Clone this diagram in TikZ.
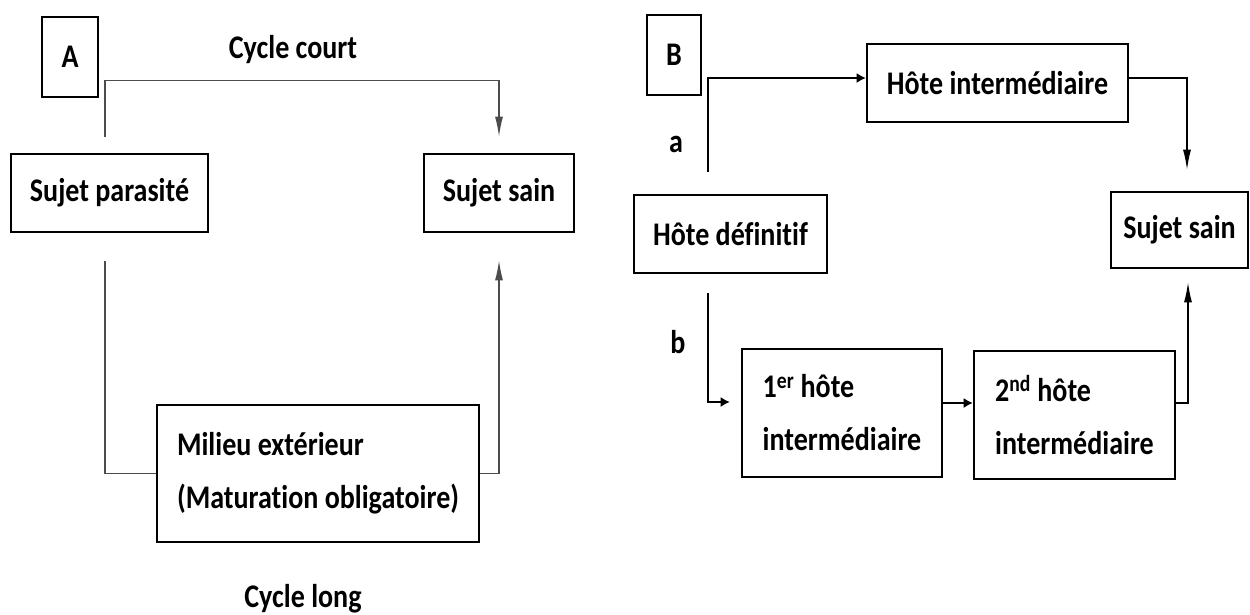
\documentclass[tikz,border=0pt]{standalone}
\usepackage{fontspec}
\setmainfont{Carlito}[FakeStretch=0.85,Ligatures=NoCommon]
\usepackage{tikz}
\usetikzlibrary{arrows.meta}
\newcommand{\bigbf}{\fontsize{33}{53}\selectfont\bfseries}
\tikzstyle{box}=[draw=black,line width=2.7pt,inner sep=0pt,font=\bigbf]
\tikzstyle{twoline}=[box,align=left]
\tikzstyle{tag}=[font=\bigbf,inner sep=0pt,anchor=base]
\tikzstyle{link}=[line width=1.3pt]
\tikzstyle{vtip}=[-{Latex[length=20pt,width=8pt]}]
\tikzstyle{htip}=[-{Latex[length=9pt,width=10pt]}]

\begin{document}
\begin{tikzpicture}[x=1pt,y=-1pt]
  \useasboundingbox (0,0) rectangle (1250,614);
  % A : cycle court / cycle long
  \node[box,minimum width=56pt,minimum height=80pt] (boxA) at (70,57) {A};
  \node[tag] (court) at (293,58) {Cycle court};
  \node[box,minimum width=197pt,minimum height=78pt] (sp) at (109.5,193) {Sujet parasité};
  \node[box,minimum width=150pt,minimum height=78pt] (ss) at (499,193) {Sujet sain};
  \node[twoline,minimum width=322pt,minimum height=137pt] (mil) at (318,473.5)
    {Milieu extérieur\\(Maturation obligatoire)};
  \node[tag] (long) at (303,607) {Cycle long};
  \draw[link,black!70,vtip,shorten <=16pt,shorten >=16pt]
    ([xshift=-4.5pt]sp.north) -- ++(0,-72) -| (ss.north);
  \draw[link,black!70,shorten <=28pt] ([xshift=-4.5pt]sp.south) |- (mil.west);
  \draw[link,black!70,vtip,shorten >=27pt] (mil.east) -| (ss.south);

  % B : hotes intermediaires
  \node[box,minimum width=54pt,minimum height=80pt] (boxB) at (674,55) {B};
  \node[tag] (la) at (676,152) {a};
  \node[tag] (lb) at (678,353) {b};
  \node[box,minimum width=261pt,minimum height=78pt] (hi) at (997.5,83) {Hôte intermédiaire};
  \node[box,minimum width=193pt,minimum height=78pt] (hd) at (730.5,234) {Hôte définitif};
  \node[box,minimum width=137pt,minimum height=76pt] (sb) at (1179.5,230) {Sujet sain};
  \node[twoline,minimum width=200pt,minimum height=128pt] (h1) at (842,413)
    {1\textsuperscript{er} hôte\\intermédiaire};
  \node[twoline,minimum width=201pt,minimum height=128pt] (h2) at (1074.5,415)
    {2\textsuperscript{nd} hôte\\intermédiaire};
  \draw[link,htip,shorten <=22pt] ([xshift=-22.5pt]hd.north) |- ([yshift=5pt]hi.west);
  \draw[link,vtip,shorten >=21pt] ([yshift=5pt]hi.east) -| ([xshift=7.5pt]sb.north);
  \draw[link,htip,shorten <=19pt,shorten >=11pt] ([xshift=-22.5pt]hd.south) |- ([yshift=11pt]h1.west);
  \draw[link,htip] ([yshift=10pt]h1.east) -- ([yshift=12pt]h2.west);
  \draw[link,vtip,shorten >=13pt] ([yshift=12pt]h2.east) -| ([xshift=8.5pt]sb.south);
\end{tikzpicture}
\end{document}
